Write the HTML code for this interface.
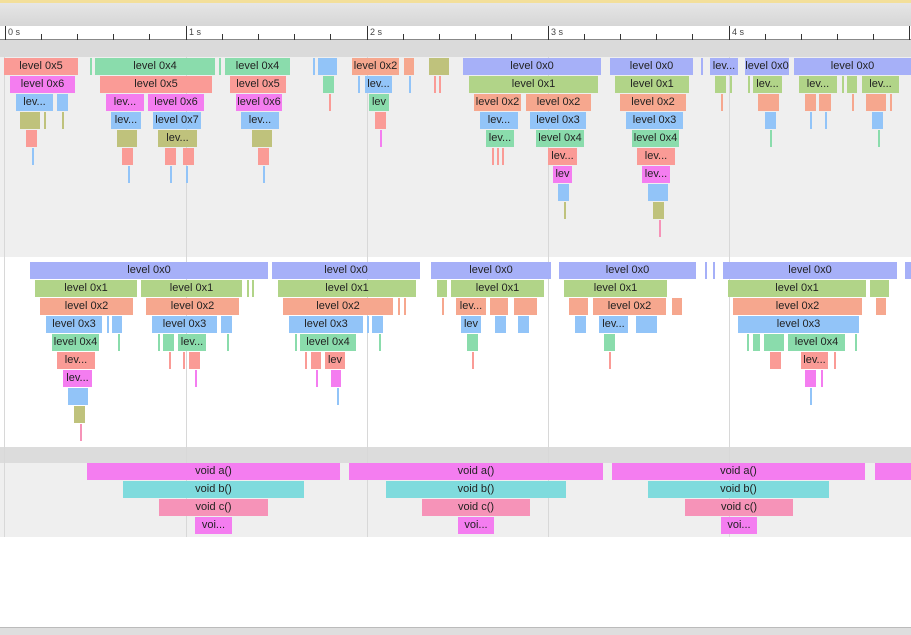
<!DOCTYPE html>
<html><head><meta charset="utf-8"><style>
*{margin:0;padding:0;box-sizing:border-box}
body{width:911px;height:635px;position:relative;overflow:hidden;background:#fff;font-family:"Liberation Sans",sans-serif}
.sec{position:absolute;left:0;width:911px}
i{position:absolute;height:17px;line-height:17px;font-style:normal;font-size:11px;color:#222;text-align:center;white-space:nowrap;overflow:hidden}
.s{background:#fa9b96}.m{background:#f47df0}.b{background:#92c4f8}.o{background:#bfc27c}.g{background:#8adcac}.p{background:#a6b0f8}.l{background:#b1d488}.k{background:#f6a78e}.c{background:#7fdbdd}.n{background:#f693b8}
.t0{top:0}.t1{top:18px}.t2{top:36px}.t3{top:54px}.t4{top:72px}.t5{top:90px}.t6{top:108px}.t7{top:126px}.t8{top:144px}.t9{top:162px}
.v{position:absolute;width:1px;background:#d8d8d8}
.tk{position:absolute;top:34px;width:1px;height:6px;background:#333}
.mj{position:absolute;top:26px;width:1px;height:14px;background:#333}
.lb{position:absolute;top:27px;font-size:9px;color:#444}
</style></head><body>
<div style="position:absolute;left:0;top:0;width:911px;height:3px;background:#f3df9a"></div>
<div style="position:absolute;left:0;top:3px;width:911px;height:23px;background:linear-gradient(#e6e6e6,#d6d6d6)"></div>
<div style="position:absolute;left:0;top:26px;width:911px;height:14px;background:#fff;border-bottom:1px solid #888"></div>
<div style="position:absolute;left:0;top:40px;width:911px;height:17px;background:#dadada"></div>
<div style="position:absolute;left:0;top:57px;width:911px;height:200px;background:#efefef"></div>
<div style="position:absolute;left:0;top:447px;width:911px;height:16px;background:#dcdcdc"></div>
<div style="position:absolute;left:0;top:463px;width:911px;height:74px;background:#efefef"></div>
<div style="position:absolute;left:0;top:627px;width:911px;height:8px;background:#dedede;border-top:1px solid #bbb"></div>
<div class="v" style="left:4px;top:57px;height:480px"></div>
<div class="v" style="left:186px;top:57px;height:480px"></div>
<div class="v" style="left:367px;top:57px;height:480px"></div>
<div class="v" style="left:548px;top:57px;height:480px"></div>
<div class="v" style="left:729px;top:57px;height:480px"></div>
<div class="mj" style="left:5px"></div><div class="lb" style="left:8px">0 s</div>
<div class="mj" style="left:186px"></div><div class="lb" style="left:189px">1 s</div>
<div class="mj" style="left:367px"></div><div class="lb" style="left:370px">2 s</div>
<div class="mj" style="left:548px"></div><div class="lb" style="left:551px">3 s</div>
<div class="mj" style="left:729px"></div><div class="lb" style="left:732px">4 s</div>
<div class="mj" style="left:909px"></div>
<div class="tk" style="left:41px"></div><div class="tk" style="left:77px"></div><div class="tk" style="left:113px"></div><div class="tk" style="left:149px"></div>
<div class="tk" style="left:222px"></div><div class="tk" style="left:258px"></div><div class="tk" style="left:294px"></div><div class="tk" style="left:330px"></div>
<div class="tk" style="left:403px"></div><div class="tk" style="left:439px"></div><div class="tk" style="left:475px"></div><div class="tk" style="left:511px"></div>
<div class="tk" style="left:584px"></div><div class="tk" style="left:620px"></div><div class="tk" style="left:656px"></div><div class="tk" style="left:692px"></div>
<div class="tk" style="left:765px"></div><div class="tk" style="left:801px"></div><div class="tk" style="left:837px"></div><div class="tk" style="left:873px"></div>

<div class="sec" style="top:58px">
<i class="s t0" style="left:4px;width:74px">level 0x5</i><i class="g t0" style="left:90px;width:2px"></i><i class="g t0" style="left:95px;width:120px">level 0x4</i><i class="g t0" style="left:219px;width:2px"></i><i class="g t0" style="left:225px;width:65px">level 0x4</i><i class="b t0" style="left:313px;width:2px"></i><i class="b t0" style="left:318px;width:19px"></i><i class="k t0" style="left:352px;width:47px">level 0x2</i><i class="k t0" style="left:404px;width:10px"></i><i class="o t0" style="left:429px;width:20px"></i><i class="p t0" style="left:463px;width:138px">level 0x0</i><i class="p t0" style="left:610px;width:83px">level 0x0</i><i class="p t0" style="left:701px;width:2px"></i><i class="p t0" style="left:710px;width:28px">lev...</i><i class="p t0" style="left:745px;width:44px">level 0x0</i><i class="p t0" style="left:794px;width:117px">level 0x0</i>
<i class="m t1" style="left:10px;width:65px">level 0x6</i><i class="s t1" style="left:100px;width:112px">level 0x5</i><i class="s t1" style="left:230px;width:56px">level 0x5</i><i class="g t1" style="left:323px;width:11px"></i><i class="b t1" style="left:358px;width:2px"></i><i class="b t1" style="left:365px;width:27px">lev...</i><i class="b t1" style="left:409px;width:2px"></i><i class="s t1" style="left:434px;width:2px"></i><i class="s t1" style="left:439px;width:2px"></i><i class="l t1" style="left:469px;width:129px">level 0x1</i><i class="l t1" style="left:615px;width:74px">level 0x1</i><i class="l t1" style="left:715px;width:11px"></i><i class="l t1" style="left:730px;width:2px"></i><i class="l t1" style="left:748px;width:2px"></i><i class="l t1" style="left:753px;width:29px">lev...</i><i class="l t1" style="left:799px;width:38px">lev...</i><i class="l t1" style="left:842px;width:2px"></i><i class="l t1" style="left:847px;width:10px"></i><i class="l t1" style="left:862px;width:37px">lev...</i>
<i class="b t2" style="left:16px;width:37px">lev...</i><i class="b t2" style="left:57px;width:11px"></i><i class="m t2" style="left:106px;width:38px">lev...</i><i class="m t2" style="left:148px;width:56px">level 0x6</i><i class="m t2" style="left:236px;width:46px">level 0x6</i><i class="s t2" style="left:329px;width:2px"></i><i class="g t2" style="left:369px;width:20px">lev</i><i class="k t2" style="left:474px;width:47px">level 0x2</i><i class="k t2" style="left:526px;width:65px">level 0x2</i><i class="k t2" style="left:620px;width:66px">level 0x2</i><i class="k t2" style="left:721px;width:2px"></i><i class="k t2" style="left:758px;width:21px"></i><i class="k t2" style="left:805px;width:11px"></i><i class="k t2" style="left:819px;width:12px"></i><i class="k t2" style="left:852px;width:2px"></i><i class="k t2" style="left:866px;width:20px"></i><i class="k t2" style="left:890px;width:2px"></i>
<i class="o t3" style="left:20px;width:20px"></i><i class="o t3" style="left:44px;width:2px"></i><i class="o t3" style="left:62px;width:2px"></i><i class="b t3" style="left:111px;width:30px">lev...</i><i class="b t3" style="left:153px;width:48px">level 0x7</i><i class="b t3" style="left:241px;width:38px">lev...</i><i class="s t3" style="left:375px;width:11px"></i><i class="b t3" style="left:480px;width:38px">lev...</i><i class="b t3" style="left:530px;width:56px">level 0x3</i><i class="b t3" style="left:626px;width:57px">level 0x3</i><i class="b t3" style="left:765px;width:11px"></i><i class="b t3" style="left:810px;width:2px"></i><i class="b t3" style="left:825px;width:2px"></i><i class="b t3" style="left:872px;width:11px"></i>
<i class="s t4" style="left:26px;width:11px"></i><i class="o t4" style="left:117px;width:20px"></i><i class="o t4" style="left:158px;width:39px">lev...</i><i class="o t4" style="left:252px;width:20px"></i><i class="m t4" style="left:380px;width:2px"></i><i class="g t4" style="left:486px;width:28px">lev...</i><i class="g t4" style="left:536px;width:48px">level 0x4</i><i class="g t4" style="left:632px;width:47px">level 0x4</i><i class="g t4" style="left:770px;width:2px"></i><i class="g t4" style="left:878px;width:2px"></i>
<i class="b t5" style="left:32px;width:2px"></i><i class="s t5" style="left:122px;width:11px"></i><i class="s t5" style="left:165px;width:11px"></i><i class="s t5" style="left:183px;width:11px"></i><i class="s t5" style="left:258px;width:11px"></i><i class="s t5" style="left:492px;width:2px"></i><i class="s t5" style="left:497px;width:2px"></i><i class="s t5" style="left:502px;width:2px"></i><i class="s t5" style="left:548px;width:29px">lev...</i><i class="s t5" style="left:637px;width:38px">lev...</i>
<i class="b t6" style="left:128px;width:2px"></i><i class="b t6" style="left:170px;width:2px"></i><i class="b t6" style="left:186px;width:2px"></i><i class="b t6" style="left:263px;width:2px"></i><i class="m t6" style="left:553px;width:19px">lev</i><i class="m t6" style="left:642px;width:28px">lev...</i>
<i class="b t7" style="left:558px;width:11px"></i><i class="b t7" style="left:648px;width:20px"></i>
<i class="o t8" style="left:564px;width:2px"></i><i class="o t8" style="left:653px;width:11px"></i>
<i class="n t9" style="left:659px;width:2px"></i>
</div>

<div class="sec" style="top:262px">
<i class="p t0" style="left:30px;width:238px">level 0x0</i><i class="p t0" style="left:272px;width:148px">level 0x0</i><i class="p t0" style="left:431px;width:120px">level 0x0</i><i class="p t0" style="left:559px;width:137px">level 0x0</i><i class="p t0" style="left:705px;width:2px"></i><i class="p t0" style="left:713px;width:2px"></i><i class="p t0" style="left:723px;width:174px">level 0x0</i><i class="p t0" style="left:905px;width:6px"></i>
<i class="l t1" style="left:35px;width:102px">level 0x1</i><i class="l t1" style="left:141px;width:101px">level 0x1</i><i class="l t1" style="left:247px;width:2px"></i><i class="l t1" style="left:252px;width:2px"></i><i class="l t1" style="left:278px;width:138px">level 0x1</i><i class="l t1" style="left:437px;width:10px"></i><i class="l t1" style="left:451px;width:93px">level 0x1</i><i class="l t1" style="left:564px;width:103px">level 0x1</i><i class="l t1" style="left:728px;width:138px">level 0x1</i><i class="l t1" style="left:870px;width:19px"></i>
<i class="k t2" style="left:40px;width:93px">level 0x2</i><i class="k t2" style="left:146px;width:93px">level 0x2</i><i class="k t2" style="left:283px;width:110px">level 0x2</i><i class="k t2" style="left:398px;width:2px"></i><i class="k t2" style="left:404px;width:2px"></i><i class="k t2" style="left:442px;width:2px"></i><i class="k t2" style="left:456px;width:30px">lev...</i><i class="k t2" style="left:490px;width:18px"></i><i class="k t2" style="left:514px;width:23px"></i><i class="k t2" style="left:569px;width:19px"></i><i class="k t2" style="left:593px;width:73px">level 0x2</i><i class="k t2" style="left:672px;width:10px"></i><i class="k t2" style="left:733px;width:129px">level 0x2</i><i class="k t2" style="left:876px;width:10px"></i>
<i class="b t3" style="left:46px;width:56px">level 0x3</i><i class="b t3" style="left:107px;width:2px"></i><i class="b t3" style="left:112px;width:10px"></i><i class="b t3" style="left:152px;width:65px">level 0x3</i><i class="b t3" style="left:221px;width:11px"></i><i class="b t3" style="left:289px;width:74px">level 0x3</i><i class="b t3" style="left:367px;width:2px"></i><i class="b t3" style="left:372px;width:11px"></i><i class="b t3" style="left:461px;width:20px">lev</i><i class="b t3" style="left:495px;width:11px"></i><i class="b t3" style="left:518px;width:11px"></i><i class="b t3" style="left:575px;width:11px"></i><i class="b t3" style="left:599px;width:29px">lev...</i><i class="b t3" style="left:636px;width:21px"></i><i class="b t3" style="left:738px;width:121px">level 0x3</i>
<i class="g t4" style="left:52px;width:47px">level 0x4</i><i class="g t4" style="left:118px;width:2px"></i><i class="g t4" style="left:158px;width:2px"></i><i class="g t4" style="left:163px;width:11px"></i><i class="g t4" style="left:178px;width:28px">lev...</i><i class="g t4" style="left:227px;width:2px"></i><i class="g t4" style="left:295px;width:2px"></i><i class="g t4" style="left:300px;width:56px">level 0x4</i><i class="g t4" style="left:379px;width:2px"></i><i class="g t4" style="left:467px;width:11px"></i><i class="g t4" style="left:604px;width:11px"></i><i class="g t4" style="left:747px;width:2px"></i><i class="g t4" style="left:753px;width:7px"></i><i class="g t4" style="left:764px;width:20px"></i><i class="g t4" style="left:788px;width:57px">level 0x4</i><i class="g t4" style="left:855px;width:2px"></i>
<i class="s t5" style="left:57px;width:38px">lev...</i><i class="s t5" style="left:169px;width:2px"></i><i class="s t5" style="left:183px;width:2px"></i><i class="s t5" style="left:189px;width:11px"></i><i class="s t5" style="left:305px;width:2px"></i><i class="s t5" style="left:311px;width:10px"></i><i class="s t5" style="left:325px;width:20px">lev</i><i class="s t5" style="left:472px;width:2px"></i><i class="s t5" style="left:609px;width:2px"></i><i class="s t5" style="left:770px;width:11px"></i><i class="s t5" style="left:801px;width:27px">lev...</i><i class="s t5" style="left:834px;width:2px"></i>
<i class="m t6" style="left:63px;width:29px">lev...</i><i class="m t6" style="left:195px;width:2px"></i><i class="m t6" style="left:316px;width:2px"></i><i class="m t6" style="left:331px;width:10px"></i><i class="m t6" style="left:805px;width:11px"></i><i class="m t6" style="left:821px;width:2px"></i>
<i class="b t7" style="left:68px;width:20px"></i><i class="b t7" style="left:337px;width:2px"></i><i class="b t7" style="left:810px;width:2px"></i>
<i class="o t8" style="left:74px;width:11px"></i>
<i class="n t9" style="left:80px;width:2px"></i>
</div>

<div class="sec" style="top:463px">
<i class="m t0" style="left:87px;width:253px">void a()</i><i class="m t0" style="left:349px;width:254px">void a()</i><i class="m t0" style="left:612px;width:253px">void a()</i><i class="m t0" style="left:875px;width:36px"></i>
<i class="c t1" style="left:123px;width:181px">void b()</i><i class="c t1" style="left:386px;width:180px">void b()</i><i class="c t1" style="left:648px;width:181px">void b()</i>
<i class="n t2" style="left:159px;width:109px">void c()</i><i class="n t2" style="left:422px;width:108px">void c()</i><i class="n t2" style="left:685px;width:108px">void c()</i>
<i class="m t3" style="left:195px;width:37px">voi...</i><i class="m t3" style="left:458px;width:36px">voi...</i><i class="m t3" style="left:721px;width:36px">voi...</i>
</div>
</body></html>
